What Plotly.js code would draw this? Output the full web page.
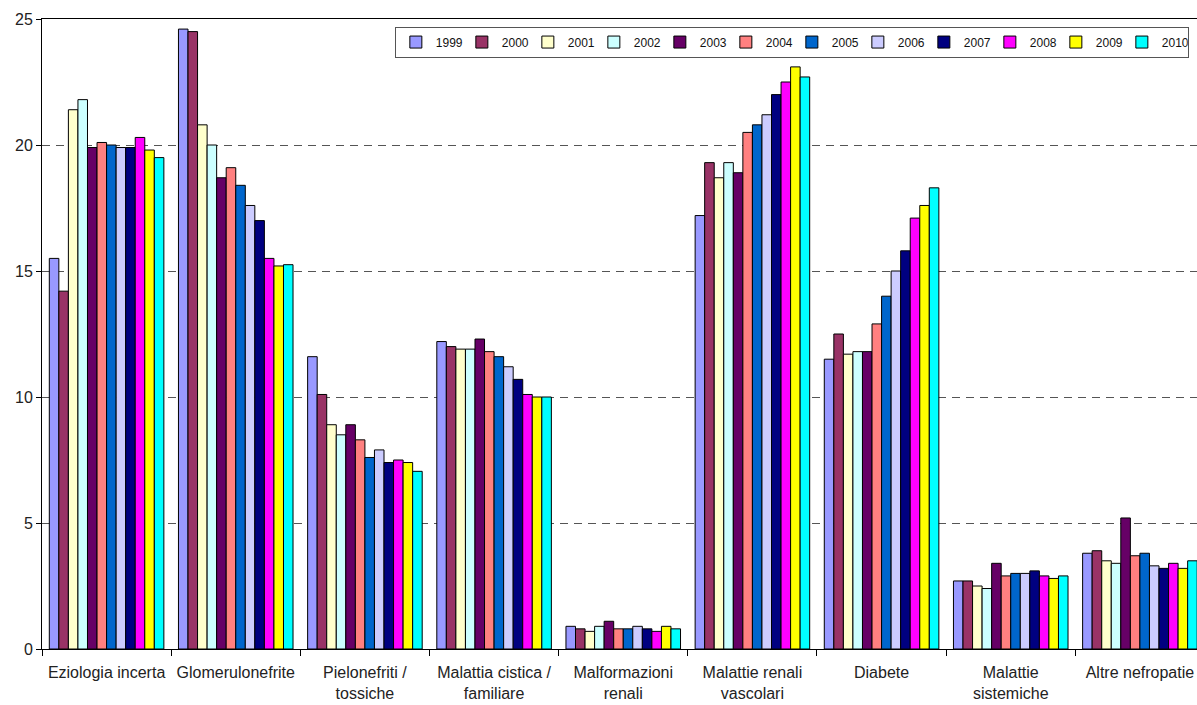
<!DOCTYPE html>
<html>
<head>
<meta charset="utf-8">
<script src="https://cdn.plot.ly/plotly-3.0.1.min.js"></script>
<style>html,body{margin:0;padding:0;background:#fff;}#chart{width:1197px;height:705px;}</style>
</head>
<body>
<div id="chart"></div>
<script>
const categories = [
  "Eziologia incerta",
  "Glomerulonefrite",
  "Pielonefriti /<br>tossiche",
  "Malattia cistica /<br>familiare",
  "Malformazioni<br>renali",
  "Malattie renali<br>vascolari",
  "Diabete",
  "Malattie<br>sistemiche",
  "Altre nefropatie"
];
const years = ["1999","2000","2001","2002","2003","2004","2005","2006","2007","2008","2009","2010"];
const colors = ["#9999FF","#993366","#FFFFCC","#CCFFFF","#660066","#FF8080","#0066CC","#CCCCFF","#000080","#FF00FF","#FFFF00","#00FFFF"];

const v1999 = [15.5, 24.6, 11.6, 12.2, 0.9, 17.2, 11.5, 2.7, 3.8];
const v2000 = [14.2, 24.5, 10.1, 12.0, 0.8, 19.3, 12.5, 2.7, 3.9];
const v2001 = [21.4, 20.8, 8.9, 11.9, 0.7, 18.7, 11.7, 2.5, 3.5];
const v2002 = [21.8, 20.0, 8.5, 11.9, 0.9, 19.3, 11.8, 2.4, 3.4];
const v2003 = [19.9, 18.7, 8.9, 12.3, 1.1, 18.9, 11.8, 3.4, 5.2];
const v2004 = [20.1, 19.1, 8.3, 11.8, 0.8, 20.5, 12.9, 2.9, 3.7];
const v2005 = [20.0, 18.4, 7.6, 11.6, 0.8, 20.8, 14.0, 3.0, 3.8];
const v2006 = [19.9, 17.6, 7.9, 11.2, 0.9, 21.2, 15.0, 3.0, 3.3];
const v2007 = [19.9, 17.0, 7.4, 10.7, 0.8, 22.0, 15.8, 3.1, 3.2];
const v2008 = [20.3, 15.5, 7.5, 10.1, 0.7, 22.5, 17.1, 2.9, 3.4];
const v2009 = [19.8, 15.2, 7.4, 10.0, 0.9, 23.1, 17.6, 2.8, 3.2];
const v2010 = [19.5, 15.25, 7.05, 10.0, 0.8, 22.7, 18.3, 2.9, 3.5];

const series = [v1999, v2000, v2001, v2002, v2003, v2004, v2005, v2006, v2007, v2008, v2009, v2010];
const yTicks = [0, 5, 10, 15, 20, 25];

const FONT = "'Liberation Sans', Arial, sans-serif";

const traces = series.map((vals, i) => ({
  type: "bar",
  name: years[i],
  x: categories,
  y: vals,
  marker: { color: colors[i], line: { color: "#000000", width: 1 } },
  hoverinfo: "skip"
}));

const layout = {
  width: 1197,
  height: 705,
  margin: { l: 42, r: 0, t: 19, b: 56, pad: 0 },
  paper_bgcolor: "#ffffff",
  plot_bgcolor: "#ffffff",
  barmode: "group",
  bargap: 0.113,
  bargroupgap: 0,
  font: { family: FONT, color: "#222222" },
  showlegend: true,
  legend: {
    orientation: "h",
    x: 0.3055, y: 0.988, xanchor: "left", yanchor: "top",
    bgcolor: "#ffffff", bordercolor: "#555555", borderwidth: 1,
    font: { family: FONT, size: 12, color: "#111111" },
    itemwidth: 30,
    entrywidth: 21,
    entrywidthmode: "pixels",
    traceorder: "normal"
  },
  xaxis: {
    type: "category",
    range: [-0.5, 8.442],
    tickangle: 0,
    showline: true, linecolor: "#000000", linewidth: 1, mirror: true,
    ticks: "outside", tickson: "boundaries", ticklen: 6, tickcolor: "#000000",
    ticklabelstandoff: 9,
    showgrid: false, zeroline: false,
    tickfont: { family: FONT, size: 16, color: "#222222" },
    fixedrange: true
  },
  yaxis: {
    range: [0, 25],
    tickvals: yTicks,
    ticktext: yTicks.map(String),
    showline: true, linecolor: "#000000", linewidth: 1,
    ticks: "outside", ticklen: 5, tickcolor: "#000000",
    showgrid: true, gridcolor: "#555555", gridwidth: 1, griddash: "8px,6px",
    zeroline: false,
    tickfont: { family: FONT, size: 16, color: "#222222" },
    fixedrange: true
  },
  hovermode: false
};

Plotly.newPlot("chart", traces, layout, { displayModeBar: false, staticPlot: true });
</script>
</body>
</html>
